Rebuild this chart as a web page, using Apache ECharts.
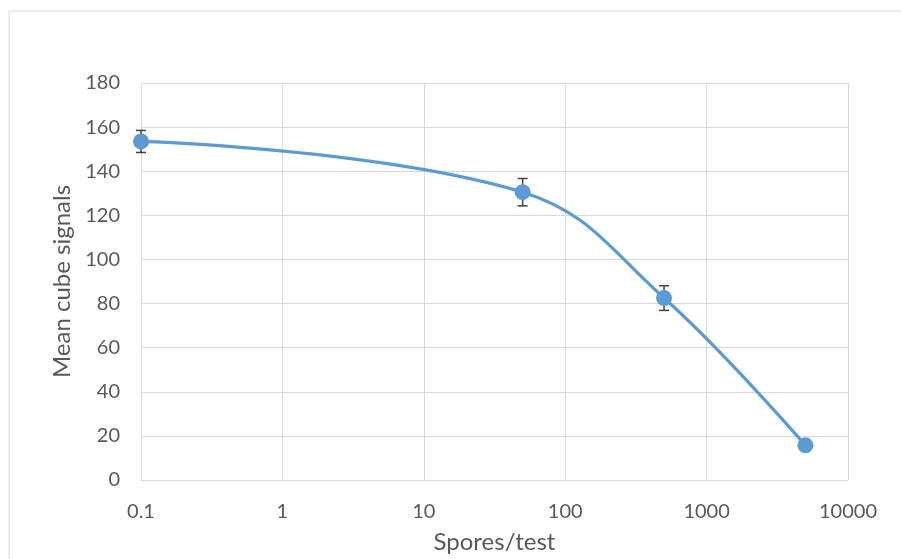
<!DOCTYPE html>
<html><head><meta charset="utf-8">
<script src="https://cdn.jsdelivr.net/npm/echarts@6/dist/echarts.min.js"></script>
<style>html,body{margin:0;padding:0;background:#fff}#c{width:901px;height:559px}</style>
</head><body><div id="c"></div>
<script>
const spores = [0.1, 50, 500, 5000];
const signals = [153.5, 130.5, 82.5, 15.7];
const errors = [5, 6.2, 5.6, 1.5];
const xTicks = [0.1, 1, 10, 100, 1000, 10000];
const yTicks = [0, 20, 40, 60, 80, 100, 120, 140, 160, 180];

const chart = echarts.init(document.getElementById('c'), null, {renderer:'canvas'});
const font = 'Lato, "Open Sans", sans-serif';
const lineData = spores.map((x,i)=>[x, signals[i]]);
const errData = spores.map((x,i)=>[x, signals[i]-errors[i], signals[i]+errors[i]]);
chart.setOption({
  animation:false,
  graphic:[{type:'rect', shape:{x:9, y:11, width:1000, height:700}, style:{fill:'none', stroke:'#d9d9d9', lineWidth:1}, z:-10}],
  grid:{left:141, right:53, top:83, bottom:76},
  xAxis:{type:'log', logBase:10, min:0.1, max:10000,
    name:'Spores/test', nameLocation:'middle', nameGap:50,
    nameTextStyle:{fontFamily:font, fontSize:24, color:'#595959'},
    axisLine:{show:true, lineStyle:{color:'#d9d9d9', width:1}},
    axisTick:{show:false},
    splitLine:{show:true, lineStyle:{color:'#d9d9d9', width:1}},
    minorTick:{show:false},
    axisLabel:{fontFamily:font, fontSize:20, color:'#595959', margin:22,
      formatter:v=>{const t=xTicks.find(t=>Math.abs(Math.log10(t)-Math.log10(v))<1e-6);return t===undefined?'':String(t);}}
  },
  yAxis:{type:'value', min:yTicks[0], max:yTicks[yTicks.length-1], interval:20,
    name:'Mean cube signals', nameLocation:'middle', nameGap:67,
    nameTextStyle:{fontFamily:font, fontSize:24, color:'#595959'},
    axisLine:{show:true, lineStyle:{color:'#d9d9d9', width:1}},
    axisTick:{show:false},
    splitLine:{show:true, lineStyle:{color:'#d9d9d9', width:1}},
    axisLabel:{fontFamily:font, fontSize:20, color:'#595959', margin:21}
  },
  series:[
    {type:'line', data:lineData, smooth:0.4, symbol:'circle', symbolSize:16,
     lineStyle:{color:'#5B9BD5', width:3.2}, itemStyle:{color:'#5B9BD5'}, z:5},
    {type:'custom', data:errData, z:2,
     renderItem:(params, api)=>{
       const x = api.value(0);
       const lo = api.coord([x, api.value(1)]);
       const hi = api.coord([x, api.value(2)]);
       const w = 5;
       const st = {stroke:'#404040', lineWidth:1.5, fill:'none'};
       return {type:'group', children:[
         {type:'line', shape:{x1:lo[0], y1:lo[1], x2:hi[0], y2:hi[1]}, style:st},
         {type:'line', shape:{x1:lo[0]-w, y1:lo[1], x2:lo[0]+w, y2:lo[1]}, style:st},
         {type:'line', shape:{x1:hi[0]-w, y1:hi[1], x2:hi[0]+w, y2:hi[1]}, style:st}
       ]};
     }}
  ]
});
</script></body></html>
